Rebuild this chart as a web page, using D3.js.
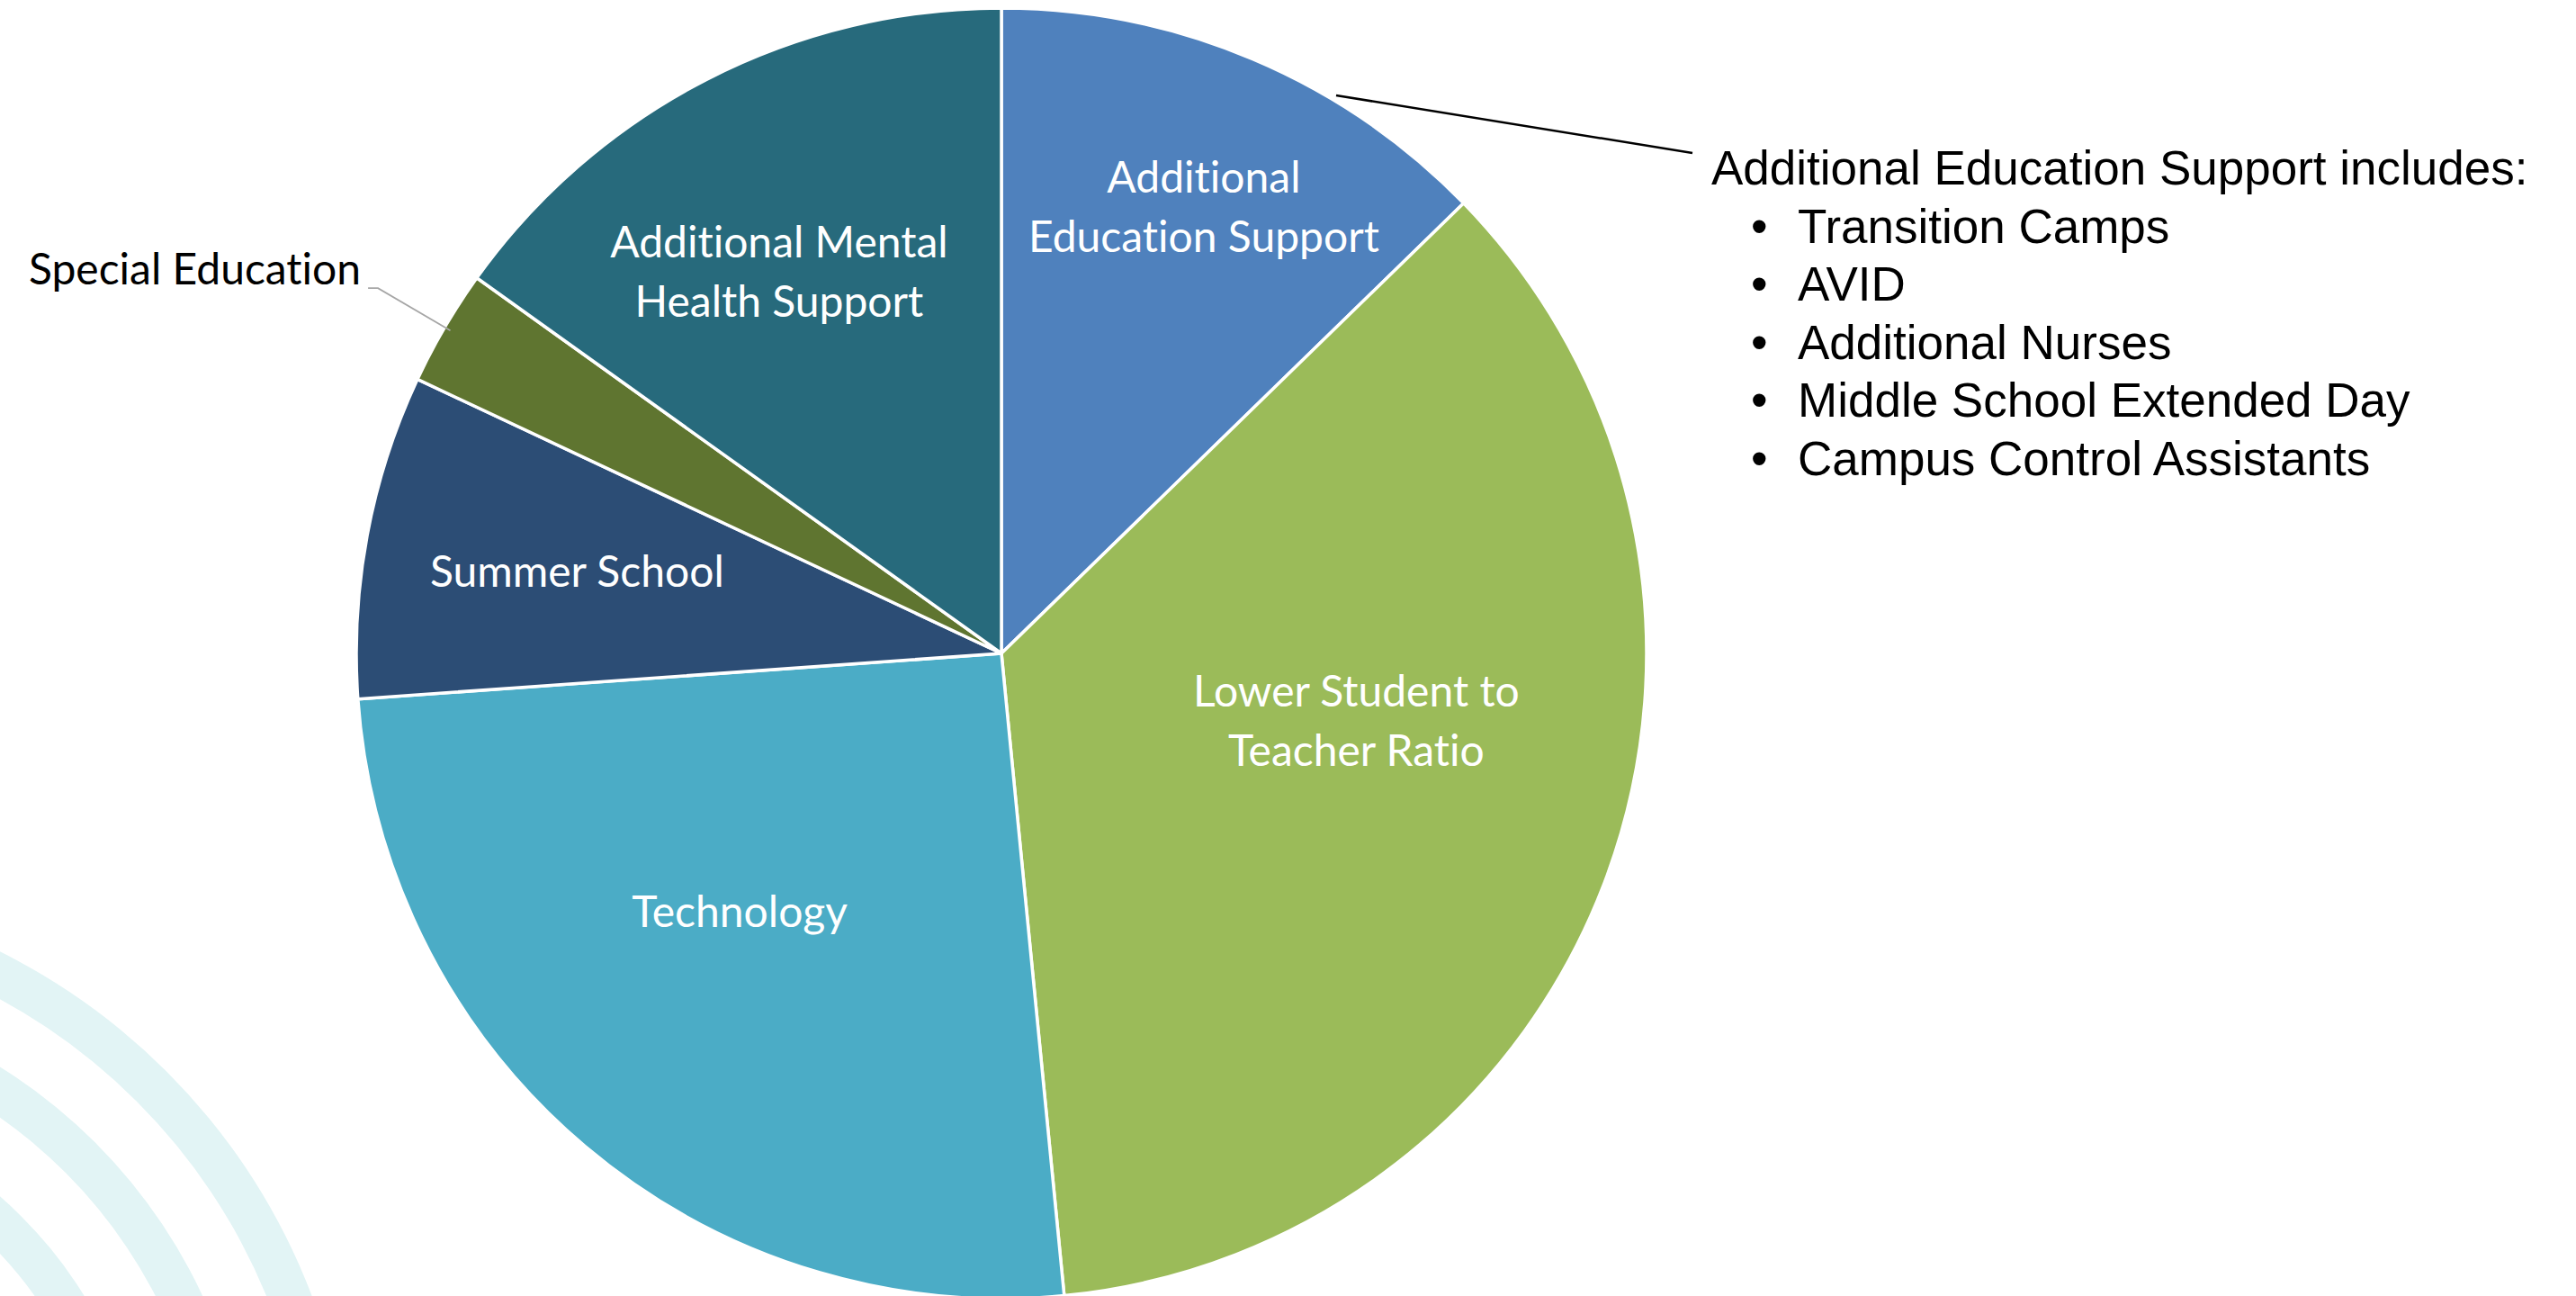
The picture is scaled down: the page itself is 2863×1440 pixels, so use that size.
<!DOCTYPE html>
<html>
<head>
<meta charset="utf-8">
<script src="https://cdn.jsdelivr.net/npm/d3@7"></script>
<style>
  html, body { margin: 0; padding: 0; background: #fff; }
  svg { display: block; }
  text { font-variant-ligatures: none; font-feature-settings: "liga" 0; }
</style>
</head>
<body>
<div id="chart"></div>
<script>
// data
const categories = [
  "Additional Education Support",
  "Lower Student to Teacher Ratio",
  "Technology",
  "Summer School",
  "Special Education",
  "Additional Mental Health Support"
];
const shares = [12.7, 35.7, 25.4, 8.1, 2.9, 15.1];
const sliceColors = ["#4f81bd", "#9bbb59", "#4bacc6", "#2c4d75", "#5f7530", "#276a7c"];
const labelLines = [
  ["Additional", "Education Support"],
  ["Lower Student to", "Teacher Ratio"],
  ["Technology"],
  ["Summer School"],
  ["Special Education"],
  ["Additional Mental", "Health Support"]
];
const noteTitle = "Additional Education Support includes:";
const noteItems = ["Transition Camps", "AVID", "Additional Nurses", "Middle School Extended Day", "Campus Control Assistants"];

// layout
const width = 2863, height = 1440;
const cx = 1113, cy = 726, R = 717;
// "best fit" label spots: fraction of radius + nudge in degrees off the mid angle
const labelFit = [
  {k: 0.76, da: 1.5},
  {k: 0.56, da: -9.3},
  {k: 0.57, da: 5.2},
  {k: 0.67, da: 0.4},
  null, // outside, with leader
  {k: 0.685, da: -3}
];
const labelFont = "Lato, 'Open Sans', sans-serif";
const labelSize = 48, lineH = 66;

let svg = d3.select('#chart').append('svg')
  .attr('width', width)
  .attr('height', height);

// background rings of the slide template
const rings = [[662, 709], [550, 597], [435, 481]];
let ringArc = d3.arc().startAngle(0).endAngle(2 * Math.PI);
svg.append('g')
  .attr('transform', 'translate(-316,1692)')
  .selectAll('path')
  .data(rings)
  .enter().append('path')
  .attr('d', d => ringArc({innerRadius: d[0], outerRadius: d[1]}))
  .attr('fill', '#e2f4f5');

// pie
let pie = d3.pie().sort(null).value(d => d);
let arcs = pie(shares);
let arc = d3.arc().innerRadius(0).outerRadius(R);

let g = svg.append('g').attr('transform', 'translate(' + [cx, cy] + ')');

g.selectAll('path.slice')
  .data(arcs)
  .enter().append('path')
  .classed('slice', true)
  .attr('d', arc)
  .attr('fill', (d, i) => sliceColors[i])
  .attr('stroke', '#fff')
  .attr('stroke-width', 3.5)
  .attr('stroke-linejoin', 'round');

function polar(angle, rad) {
  return [rad * Math.sin(angle), -rad * Math.cos(angle)];
}

// inside labels
arcs.forEach(function (d, i) {
  let fit = labelFit[i];
  if (!fit) return;
  let mid = (d.startAngle + d.endAngle) / 2 + fit.da * Math.PI / 180;
  let p = polar(mid, fit.k * R);
  let lines = labelLines[i];
  let t = g.append('text')
    .attr('text-anchor', 'middle')
    .attr('fill', '#fff')
    .style('font-family', labelFont)
    .style('font-size', labelSize + 'px');
  lines.forEach(function (s, j) {
    t.append('tspan')
      .attr('x', p[0])
      .attr('y', p[1] + (j - (lines.length - 1) / 2) * lineH + labelSize * 0.36)
      .text(s);
  });
});

// outside label with leader line
arcs.forEach(function (d, i) {
  if (labelFit[i]) return;
  let mid = (d.startAngle + d.endAngle) / 2;
  let a = polar(mid, R * 0.99), b = polar(mid, R * 1.12);
  let c = [b[0] - 11, b[1]];
  g.append('polyline')
    .attr('points', [a, b, c].map(q => q.join(',')).join(' '))
    .attr('fill', 'none')
    .attr('stroke', '#a6a6a6')
    .attr('stroke-width', 1.8);
  g.append('text')
    .attr('x', c[0] - 8)
    .attr('y', c[1] - 4)
    .attr('text-anchor', 'end')
    .attr('fill', '#000')
    .style('font-family', labelFont)
    .style('font-size', labelSize + 'px')
    .text(labelLines[i][0]);
});

// call-out line for the first slice
svg.append('line')
  .attr('x1', 1485).attr('y1', 106)
  .attr('x2', 1881).attr('y2', 170)
  .attr('stroke', '#000')
  .attr('stroke-width', 2.5);

let note = svg.append('g')
  .style('font-family', "'Liberation Sans', Arial, sans-serif")
  .style('font-size', '53px')
  .attr('fill', '#000');
note.append('text')
  .attr('x', 1902).attr('y', 205)
  .text(noteTitle);
note.selectAll('g.item')
  .data(noteItems)
  .enter().append('g')
  .classed('item', true)
  .attr('transform', (d, i) => 'translate(0,' + (205 + (i + 1) * 64.5) + ')')
  .each(function (d) {
    let it = d3.select(this);
    it.append('text').attr('x', 1946).attr('y', 0).text('\u2022');
    it.append('text').attr('x', 1998).attr('y', 0).text(d);
  });
</script>
</body>
</html>
